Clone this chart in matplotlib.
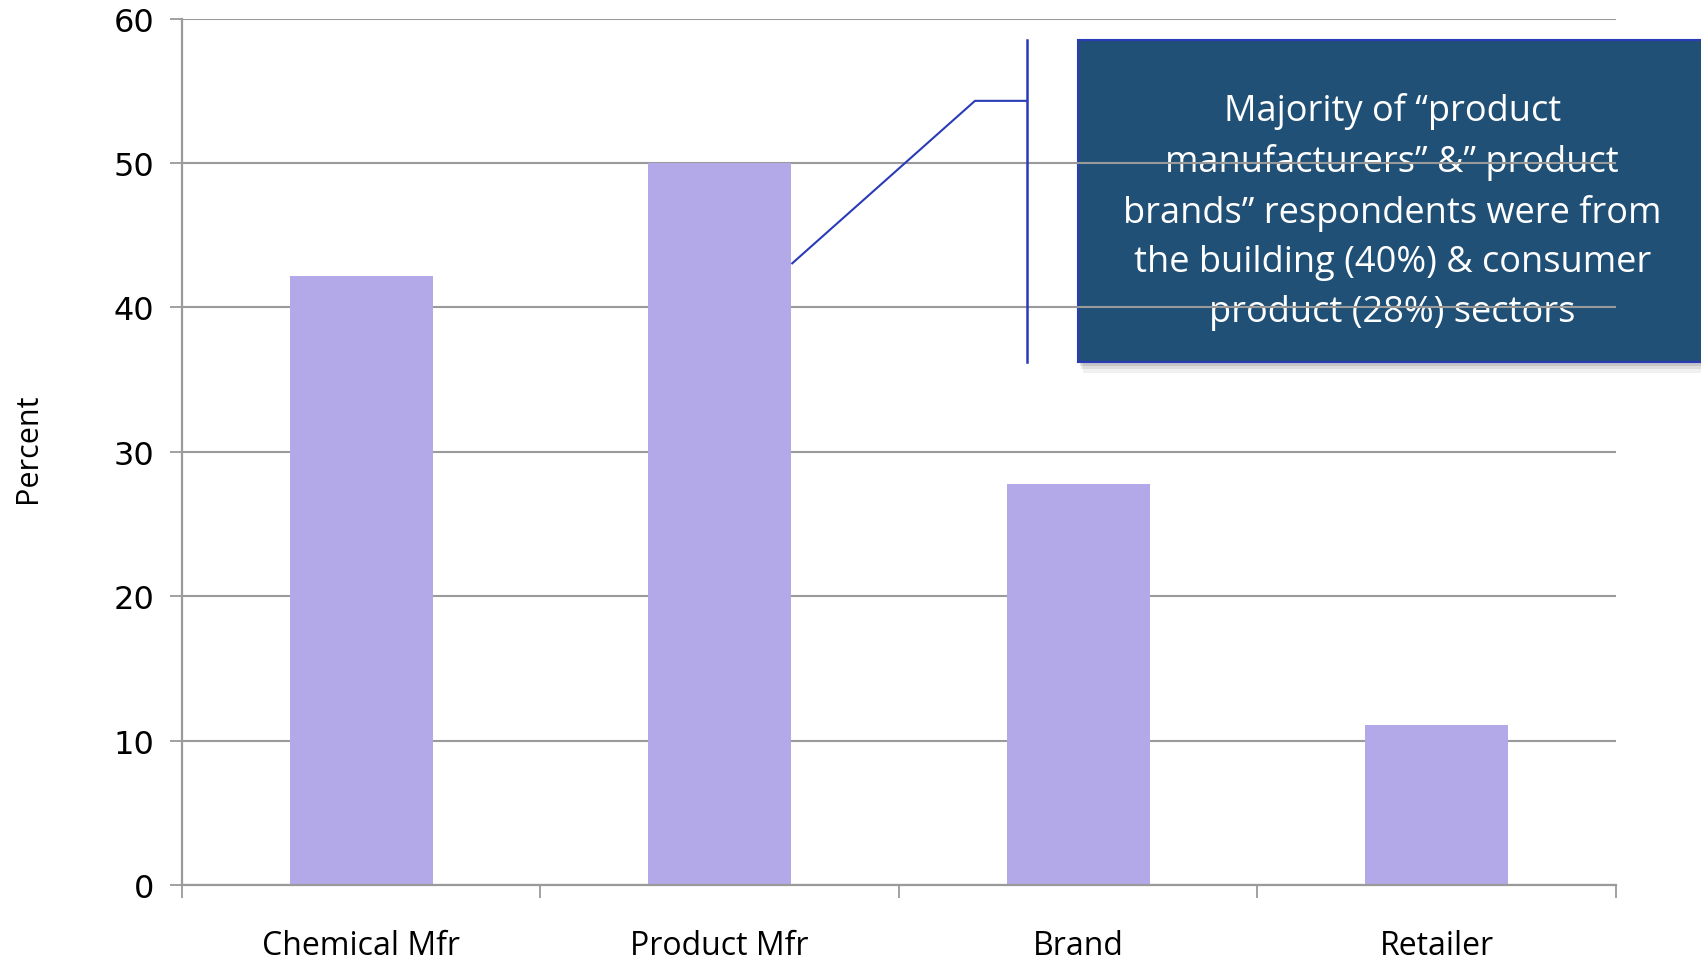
import matplotlib
matplotlib.use("Agg")
import matplotlib.pyplot as plt
from matplotlib.patches import Rectangle

categories = ["Chemical Mfr", "Product Mfr", "Brand", "Retailer"]
percent = [42.2, 50.0, 27.8, 11.1]
y_ticks = [0, 10, 20, 30, 40, 50, 60]
note = ("Majority of \u201cproduct\nmanufacturers\u201d &\u201d product\n"
        "brands\u201d respondents were from\nthe building (40%) & consumer\n"
        "product (28%) sectors")

BAR_COLOR = "#B3A9E8"
GRID_COLOR = "#9A9A9A"
BOX_COLOR = "#215077"
LINE_COLOR = "#2A3BB8"
BAR_W = 0.40

fig = plt.figure(figsize=(17.01, 9.62), dpi=100)
ax = fig.add_axes([0.107, 0.079, 0.843, 0.9007])

x = list(range(len(categories)))
ax.bar(x, percent, width=BAR_W, color=BAR_COLOR, zorder=2)

ax.set_xlim(-0.5, len(categories) - 0.5)
ax.set_ylim(0, 60)
ax.set_yticks(y_ticks)
ax.set_yticklabels([str(t) for t in y_ticks], fontsize=23, family="DejaVu Sans")
ax.set_xticks(x)
ax.set_xticklabels(categories, fontsize=23, family="Open Sans")
ax.tick_params(axis="x", which="major", length=0, pad=32)
ax.set_xticks([i - 0.5 for i in range(len(categories) + 1)], minor=True)
ax.tick_params(axis="x", which="minor", length=9, width=1.3, color=GRID_COLOR, direction="out")
ax.tick_params(axis="y", length=9, width=1.3, color=GRID_COLOR, pad=11)

ax.set_axisbelow(True)
ax.yaxis.grid(True, color=GRID_COLOR, linewidth=1.5)
for side in ("top", "right"):
    ax.spines[side].set_visible(False)
for side in ("left", "bottom"):
    ax.spines[side].set_color(GRID_COLOR)
    ax.spines[side].set_linewidth(1.6)

ax.set_ylabel("Percent", fontsize=22, family="Open Sans")
ax.yaxis.set_label_coords(-0.097, 0.505)

# callout box with soft shadow, sitting under the gridlines
box_x0, box_y0, box_y1 = 2.0, 36.2, 58.5
for k, a in enumerate([0.10, 0.08, 0.06]):
    ax.add_patch(Rectangle((box_x0 + 0.004 * (k + 1), box_y0 - 0.25 * (k + 1)), 2.2, box_y1 - box_y0,
                           facecolor="black", edgecolor="none", alpha=a, zorder=0.1, clip_on=False))
ax.add_patch(Rectangle((box_x0, box_y0), 2.2, box_y1 - box_y0, facecolor=BOX_COLOR,
                       edgecolor=LINE_COLOR, linewidth=1.5, zorder=0.2, clip_on=False))
ax.text(2.876, 46.7, note, ha="center", va="center", color="white", fontsize=26,
        family="Open Sans", linespacing=1.50, zorder=0.3)

# leader line from the Product Mfr bar to the accent bar
ax.plot([1 + BAR_W / 2, 1.712, 1.857], [43.0, 54.3, 54.3], color=LINE_COLOR, linewidth=1.5,
        zorder=3, solid_capstyle="butt")
ax.plot([1.857, 1.857], [box_y0, box_y1], color=LINE_COLOR, linewidth=1.8, zorder=3)

fig.savefig("out.png", dpi=100)
